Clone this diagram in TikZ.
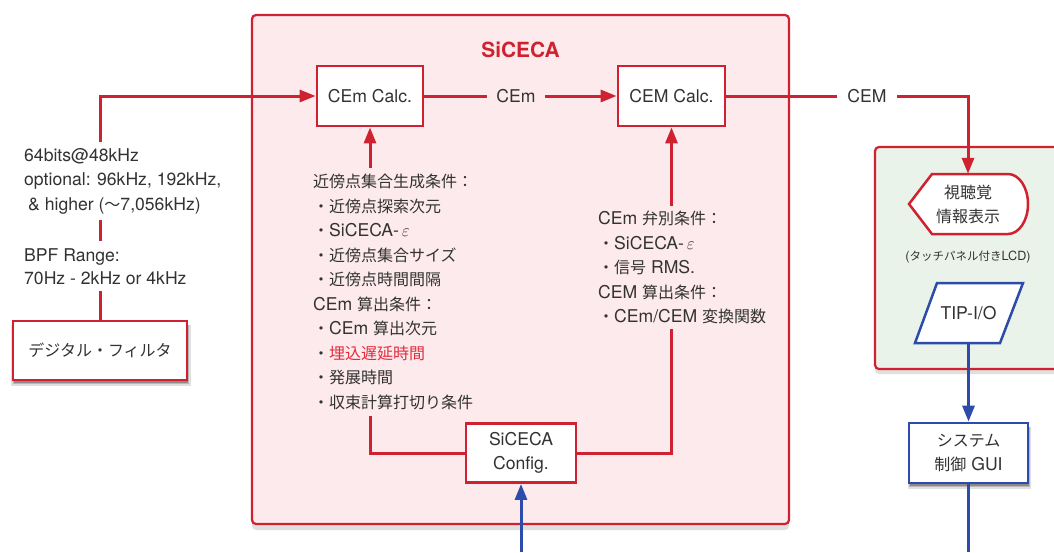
\documentclass[tikz,border=0pt]{standalone}
\usepackage{fontspec}
\setmainfont{TeX Gyre Heros}[Scale=1.1]
\newfontfamily\jp{Noto Sans CJK JP}
\usetikzlibrary{arrows.meta,shadows}
\definecolor{sred}{RGB}{208,33,48}
\definecolor{sblue}{RGB}{45,75,170}
\definecolor{spink}{RGB}{253,234,237}
\definecolor{sgreen}{RGB}{234,243,233}
\definecolor{stext}{RGB}{50,50,50}
\definecolor{shl}{RGB}{225,45,60}
\begin{document}
\begin{tikzpicture}[x=1pt,y=-1pt,
  txt/.style={text=stext, font=\fontsize{16}{24}\selectfont},
  redbox/.style={draw=sred, line width=2.8pt, fill=white, txt, inner sep=0pt},
  bluebox/.style={draw=sblue, line width=2.8pt, fill=white, txt, inner sep=0pt},
  shad/.style={
    general shadow={shadow xshift=1pt, shadow yshift=-5pt, shadow scale=1.03, fill=black, opacity=0.12},
    general shadow={shadow xshift=1pt, shadow yshift=-4pt, shadow scale=1.01, fill=black, opacity=0.18},
    general shadow={shadow xshift=1pt, shadow yshift=-3pt, fill=black, opacity=0.25}},
  redline/.style={draw=sred, line width=3pt},
  blueline/.style={draw=sblue, line width=3pt},
  arr/.style={-{Triangle[length=16pt,width=12pt]}},
  frame/.style={draw=sred, line width=2.2pt, rounded corners=4pt, inner sep=0pt}
]
\useasboundingbox (0,0) rectangle (1054,552);

% containers
\node[frame, fill=spink, drop shadow={shadow xshift=0pt, shadow yshift=-6pt, opacity=0.25}, minimum width=537pt, minimum height=509pt] (siceca) at (520.5,269.5) {};
\node[text=sred, font=\fontsize{19}{22}\selectfont\bfseries] (title) at (520.5,50) {SiCECA};
\node[frame, fill=sgreen, drop shadow={shadow xshift=0pt, shadow yshift=-5pt, opacity=0.25}, minimum width=200pt, minimum height=222pt] (panel) at (975,258) {};

% boxes
\node[redbox, minimum width=106pt, minimum height=60pt] (emc) at (370,96) {CEm Calc.};
\node[redbox, minimum width=107pt, minimum height=60pt] (bigc) at (671.5,96) {CEM Calc.};
\node[redbox, minimum width=110pt, minimum height=59pt, align=center] (cfg) at (521,453) {SiCECA\\Config.};
\node[redbox, shad, minimum width=174pt, minimum height=59pt] (filt) at (100,350.5) {{\jp デジタル・フィルタ}};
\node[bluebox, shad, minimum width=119pt, minimum height=60pt, align=center] (gui) at (968.5,453) {{\jp システム}\\{\jp 制御} GUI};

% display shape
\draw[draw=sred, line width=2.5pt, fill=white] (909,204) -- (932,174) -- (1008,174)
  arc[start angle=-90, end angle=90, x radius=20, y radius=30] -- (932,234) -- cycle;
\node[txt, align=center, minimum height=60pt, inner sep=0pt] (disp) at (968,204) {{\jp 視聴覚}\\{\jp 情報表示}};
\node[text=stext, font=\fontsize{11.5}{14}\selectfont] (lcd) at (968,257) {({\jp タッチパネル付き}LCD)};

% parallelogram
\draw[draw=sblue, line width=2.5pt, fill=white] (937,283) -- (1023,283) -- (1000,343) -- (915,343) -- cycle;
\node[txt, minimum height=60pt, inner sep=0pt] (tipio) at (968.5,313) {TIP-I/O};

% connectors
\draw[redline, arr] (filt.north) |- (emc.west);
\draw[redline, arr] (emc.east) -- (bigc.west);
\draw[redline, arr] (bigc.east) -| (disp.north);
\draw[redline, arr] (cfg.west) -| (emc.south);
\draw[redline, arr] (cfg.east) -| (bigc.south);
\coordinate (cfgin) at (521,552);
\draw[blueline, arr] (cfgin) -- (cfg.south);
\draw[blueline, arr] (tipio.south) -- (gui.north);
\coordinate (guiout) at (968.5,552);
\draw[blueline] (gui.south) -- (guiout);

% labels on connectors
\node[txt, fill=spink, inner xsep=9pt, inner ysep=2pt] (lblcem) at (516,96) {CEm};
\node[txt, fill=white, inner xsep=10pt, inner ysep=2pt] (lblCEM) at (867,96) {CEM};

\node[txt, font=\fontsize{16}{24.5}\selectfont, fill=white, align=left, anchor=north west, inner xsep=3pt, inner ysep=6pt] (rate) at (21,142)
  {64bits@48kHz\\optional: 96kHz, 192kHz,\\\hspace*{4pt}\& higher ({\jp ～}7,056kHz)};
\node[txt, font=\fontsize{16}{23}\selectfont, fill=white, align=left, anchor=north west, inner xsep=3pt, inner ysep=7pt] (bpf) at (21,241)
  {BPF Range:\\70Hz - 2kHz or 4kHz};

\node[txt, font=\fontsize{16}{24.5}\selectfont, fill=spink, align=left, anchor=north west, inner xsep=4pt, inner ysep=6pt] (cond1) at (309,168)
  {{\jp 近傍点集合生成条件：}\\
   {\jp ・近傍点探索次元}\\
   {\jp ・}SiCECA-\,$\varepsilon$\\
   {\jp ・近傍点集合サイズ}\\
   {\jp ・近傍点時間間隔}\\
   CEm {\jp 算出条件：}\\
   {\jp ・}CEm {\jp 算出次元}\\
   {\jp ・\textcolor{shl}{埋込遅延時間}}\\
   {\jp ・発展時間}\\
   {\jp ・収束計算打切り条件}};

\node[txt, font=\fontsize{16}{24.5}\selectfont, fill=spink, align=left, anchor=north west, inner xsep=4pt, inner ysep=5pt] (cond2) at (594,206)
  {CEm {\jp 弁別条件：}\\
   {\jp ・}SiCECA-\,$\varepsilon$\\
   {\jp ・信号} RMS.\\
   CEM {\jp 算出条件：}\\
   {\jp ・}CEm/CEM {\jp 変換関数}};
\end{tikzpicture}
\end{document}
